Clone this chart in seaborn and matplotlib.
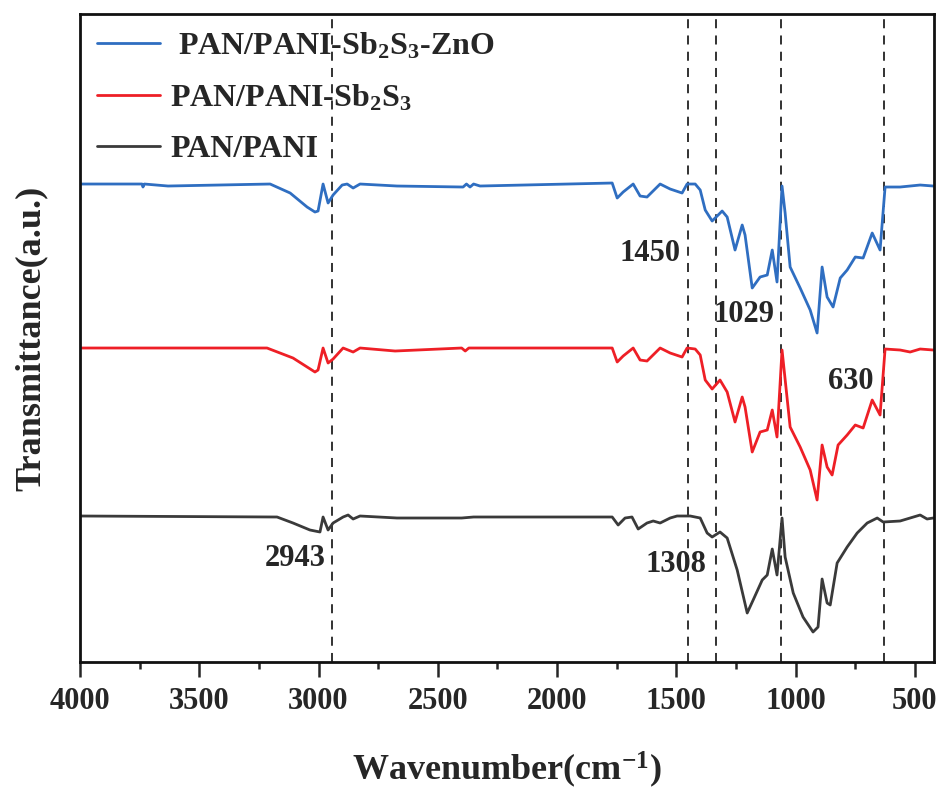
import numpy as np
import pandas as pd
import matplotlib
matplotlib.use("Agg")
import matplotlib.pyplot as plt
from matplotlib.ticker import MultipleLocator
import seaborn as sns

# FTIR spectra (wavenumber in cm^-1, transmittance in a.u., curves offset vertically)
zno_wn = [4000, 3740, 3736, 3730, 3631, 3203, 3119, 3048, 3015, 3002, 2981, 2960, 2939,
          2901, 2880, 2855, 2826, 2671, 2394, 2380, 2365, 2350, 2323, 1769, 1748, 1723,
          1681, 1652, 1623, 1568, 1526, 1476, 1455, 1421, 1400, 1379, 1350, 1308, 1287,
          1254, 1224, 1212, 1182, 1149, 1119, 1098, 1078, 1057, 1044, 1023, 981, 939,
          910, 889, 868, 843, 813, 784, 750, 717, 679, 646, 625, 562, 478, 423]
zno_t = [4.78, 4.78, 4.75, 4.78, 4.76, 4.78, 4.69, 4.55, 4.50, 4.51, 4.78, 4.59, 4.67,
         4.77, 4.78, 4.74, 4.78, 4.76, 4.75, 4.78, 4.75, 4.78, 4.76, 4.79, 4.64, 4.70,
         4.78, 4.66, 4.65, 4.78, 4.73, 4.69, 4.78, 4.78, 4.72, 4.52, 4.41, 4.51, 4.45,
         4.12, 4.37, 4.27, 3.74, 3.85, 3.87, 4.12, 3.80, 4.76, 4.49, 3.95, 3.74, 3.52,
         3.29, 3.95, 3.65, 3.55, 3.84, 3.92, 4.05, 4.04, 4.29, 4.12, 4.75, 4.75, 4.77, 4.76]

sb_wn = [4000, 3700, 3216, 3107, 3015, 3002, 2981, 2960, 2939, 2897, 2855, 2826, 2679,
         2400, 2385, 2370, 1769, 1748, 1723, 1681, 1652, 1623, 1568, 1526, 1476, 1455,
         1421, 1400, 1379, 1350, 1317, 1287, 1254, 1224, 1212, 1182, 1149, 1119, 1098,
         1078, 1057, 1023, 981, 939, 910, 889, 868, 847, 822, 784, 750, 717, 679, 646,
         625, 562, 520, 478, 423]
sb_t = [3.14, 3.14, 3.14, 3.04, 2.90, 2.92, 3.14, 2.99, 3.03, 3.14, 3.10, 3.14, 3.11,
        3.14, 3.11, 3.14, 3.14, 3.00, 3.06, 3.14, 3.02, 3.01, 3.14, 3.09, 3.05, 3.14,
        3.13, 3.07, 2.82, 2.73, 2.82, 2.70, 2.40, 2.65, 2.55, 2.10, 2.30, 2.32, 2.52,
        2.25, 3.12, 2.35, 2.15, 1.92, 1.62, 2.17, 1.95, 1.87, 2.17, 2.27, 2.37, 2.34,
        2.62, 2.47, 3.13, 3.12, 3.10, 3.13, 3.12]

pani_wn = [4000, 3174, 3107, 3036, 2994, 2981, 2960, 2939, 2897, 2876, 2855, 2826, 2671,
           2400, 2350, 1769, 1744, 1715, 1686, 1660, 1623, 1597, 1568, 1526, 1497, 1442,
           1400, 1371, 1350, 1317, 1287, 1245, 1203, 1178, 1140, 1119, 1098, 1078, 1057,
           1044, 1010, 969, 927, 906, 889, 868, 855, 826, 784, 742, 700, 658, 633, 562,
           478, 449, 423]
pani_t = [1.46, 1.45, 1.39, 1.32, 1.30, 1.45, 1.32, 1.39, 1.45, 1.47, 1.43, 1.46, 1.44,
          1.44, 1.45, 1.45, 1.37, 1.44, 1.45, 1.33, 1.39, 1.41, 1.39, 1.44, 1.46, 1.46,
          1.44, 1.29, 1.25, 1.30, 1.24, 0.92, 0.49, 0.62, 0.82, 0.87, 1.13, 0.87, 1.44,
          1.05, 0.69, 0.45, 0.30, 0.35, 0.83, 0.59, 0.57, 0.99, 1.15, 1.29, 1.39, 1.44,
          1.40, 1.41, 1.47, 1.43, 1.44]

labels = [" PAN/PANI-Sb$_2$S$_3$-ZnO", "PAN/PANI-Sb$_2$S$_3$", "PAN/PANI"]
colors = ["#2F6EC1", "#EE1F26", "#3A3A3A"]

peak_lines = [2943, 1450, 1335, 1062, 630]
peak_labels = ["2943", "1450", "1308", "1029", "630"]
peak_label_pos = [(3099, 1.04), (1610, 4.09), (1501, 0.98), (1216, 3.48), (767, 2.81)]

frames = []
for lab, wn, t in zip(labels, [zno_wn, sb_wn, pani_wn], [zno_t, sb_t, pani_t]):
    frames.append(pd.DataFrame({"wavenumber": wn, "T": t, "sample": lab}))
df = pd.concat(frames, ignore_index=True)

sns.set_theme(style="ticks")
plt.rcParams["font.family"] = ["Liberation Serif", "DejaVu Serif"]
plt.rcParams["font.weight"] = "bold"
plt.rcParams["mathtext.fontset"] = "custom"
plt.rcParams["mathtext.rm"] = "Liberation Serif:bold"
plt.rcParams["mathtext.bf"] = "Liberation Serif:bold"
plt.rcParams["mathtext.default"] = "rm"

fig = plt.figure(figsize=(9.4, 7.88), dpi=100)
ax = fig.add_axes([0.0851, 0.1599, 0.9085, 0.8223])

sns.lineplot(data=df, x="wavenumber", y="T", hue="sample", palette=colors,
             hue_order=labels, sort=False, estimator=None, linewidth=2.0, ax=ax)

for w in peak_lines:
    ax.axvline(w, color="#222222", linestyle=(0, (5, 4)), linewidth=1.3, zorder=1)

for txt, (x, y) in zip(peak_labels, peak_label_pos):
    ax.text(x, y, txt, ha="center", va="center", fontsize=22, fontweight="bold")

ax.set_xlim(4000, 420)
ax.set_ylim(0, 6.48)
ax.set_yticks([])
ax.xaxis.set_major_locator(MultipleLocator(500))
ax.xaxis.set_minor_locator(MultipleLocator(250))
ax.tick_params(axis="x", which="major", length=11, width=1.8, labelsize=22, pad=7)
ax.tick_params(axis="x", which="minor", length=5, width=1.8)
for lbl in ax.get_xticklabels():
    lbl.set_fontweight("bold")
for sp in ax.spines.values():
    sp.set_visible(True)
    sp.set_linewidth(2.0)
    sp.set_color("#111111")

ax.set_xlabel("Wavenumber(cm$^{-1}$)", fontsize=26, fontweight="bold", labelpad=24)
ax.set_ylabel("Transmittance(a.u.)", fontsize=26, fontweight="bold", labelpad=23)

leg = ax.legend(loc="upper left", bbox_to_anchor=(0.0, 1.0), frameon=False,
                fontsize=23, handlelength=2.0, handletextpad=0.3,
                labelspacing=0.68, borderaxespad=0.12)
for line in leg.get_lines():
    line.set_linewidth(2.0)

fig.savefig("out.png", dpi=100)
